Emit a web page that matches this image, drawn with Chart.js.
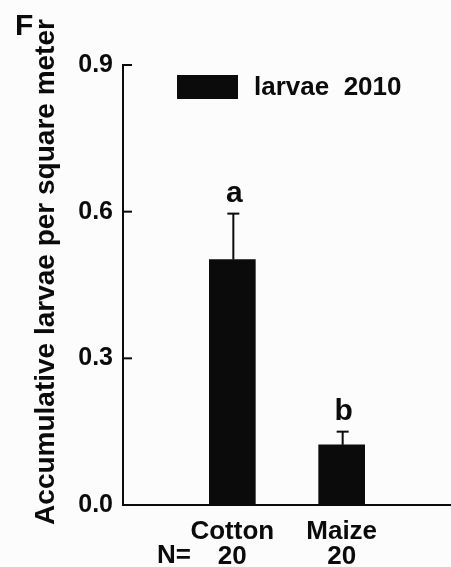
<!DOCTYPE html>
<html>
<head>
<meta charset="utf-8">
<script src="https://cdn.jsdelivr.net/npm/chart.js@4.4.1/dist/chart.umd.min.js"></script>
<style>
  html, body { margin: 0; padding: 0; background: #fcfcfd; }
  #wrap { position: relative; width: 451px; height: 567px; }
</style>
</head>
<body>
<div id="wrap"><canvas id="chart"></canvas></div>
<script>
const categories = ['Cotton', 'Maize']
const sampleSizes = ['20', '20']
const means = [0.502, 0.123]
const errors = [0.094, 0.027]
const letters = ['a', 'b']
const yTicks = [0, 0.3, 0.6, 0.9]
const seriesLabel = 'larvae  2010'
const panelLabel = 'F'
const yTitle = 'Accumulative larvae per square meter'

const FONT = "'Liberation Sans', Arial, sans-serif"
const INK = '#0b0b0b'

// empty slots at both ends so the two bars sit where the original has them
const labels = ['', ...categories.map((c, i) => [c, sampleSizes[i]]), '']
const values = [null, ...means, null]
const errs = [null, ...errors, null]
const sig = [null, ...letters, null]

function line(ctx, x1, y1, x2, y2) {
  ctx.beginPath()
  ctx.moveTo(x1, y1)
  ctx.lineTo(x2, y2)
  ctx.stroke()
}

// error bars, letters, inward ticks, legend and the loose text
const extras = {
  id: 'extras',
  afterDatasetsDraw(chart) {
    const { ctx, chartArea: area, scales: { x, y } } = chart
    ctx.save()
    ctx.strokeStyle = INK
    ctx.fillStyle = INK
    ctx.lineWidth = 2

    values.forEach((v, i) => {
      if (v == null) return
      const px = x.getPixelForValue(i)
      const base = y.getPixelForValue(v)
      const top = y.getPixelForValue(v + errs[i])
      line(ctx, px + 1, base, px + 1, top)
      line(ctx, px - 5, top, px + 7, top)
      ctx.font = `bold 30px ${FONT}`
      ctx.textAlign = 'center'
      ctx.textBaseline = 'alphabetic'
      ctx.fillText(sig[i], px + 2, top - 12)
    })

    // ticks point into the plot
    yTicks.forEach(t => {
      const py = y.getPixelForValue(t)
      line(ctx, area.left, py, area.left + 9, py)
    })

    // legend
    const ds = chart.data.datasets[0]
    ctx.fillStyle = ds.backgroundColor
    ctx.fillRect(177, 75, 61, 24)
    ctx.fillStyle = INK
    ctx.font = `bold 26px ${FONT}`
    ctx.textAlign = 'left'
    ctx.textBaseline = 'middle'
    ctx.fillText(ds.label, 254, 88)

    // N= row label
    ctx.font = `bold 26px ${FONT}`
    ctx.textAlign = 'left'
    ctx.fillText('N=', 157, 556)

    // panel letter
    ctx.font = `bold 30px ${FONT}`
    ctx.textBaseline = 'alphabetic'
    ctx.fillText(panelLabel, 15, 35)

    // y title
    ctx.translate(46, 272)
    ctx.rotate(-Math.PI / 2)
    ctx.font = `bold 28px ${FONT}`
    ctx.textAlign = 'center'
    ctx.textBaseline = 'middle'
    ctx.fillText(yTitle, 0, 0)
    ctx.restore()
  }
}

new Chart(document.getElementById('chart'), {
  type: 'bar',
  data: {
    labels,
    datasets: [{
      label: seriesLabel,
      data: values,
      backgroundColor: INK,
      borderWidth: 0,
      barThickness: 46,
    }]
  },
  options: {
    responsive: true,
    maintainAspectRatio: false,
    animation: false,
    layout: { padding: { left: 0, top: 65, right: 0, bottom: 0 } },
    plugins: {
      legend: { display: false },
      tooltip: { enabled: false },
    },
    scales: {
      x: {
        offset: false,
        grid: { display: false, drawTicks: false },
        border: { display: true, color: INK, width: 2 },
        ticks: {
          color: INK,
          font: { family: FONT, size: 26, weight: 'bold', lineHeight: 0.96 },
          padding: 14,
          maxRotation: 0,
          autoSkip: false,
        },
        afterFit: s => {
          s.height = 62
          s.paddingLeft = 0
          s.paddingRight = 0
        },
      },
      y: {
        min: 0,
        max: 0.9,
        grid: { display: false, drawTicks: false },
        border: { display: true, color: INK, width: 2 },
        afterBuildTicks: s => { s.ticks = yTicks.map(v => ({ value: v })) },
        ticks: {
          color: INK,
          font: { family: FONT, size: 25, weight: 'bold' },
          padding: 10,
          callback: v => Number(v).toFixed(1),
        },
        afterFit: s => { s.width = 123 },
      }
    }
  },
  plugins: [extras]
})
</script>
</body>
</html>
